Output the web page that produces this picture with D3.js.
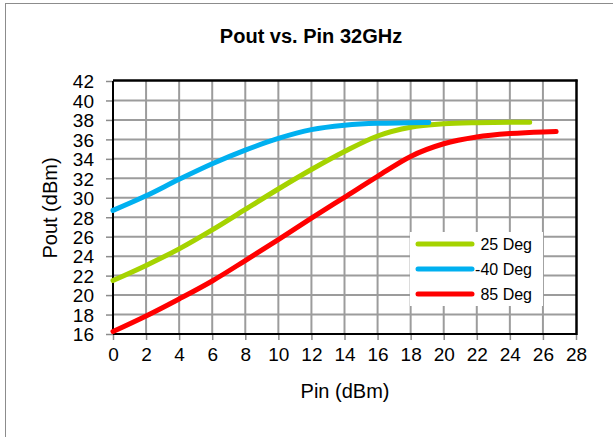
<!DOCTYPE html>
<html>
<head>
<meta charset="utf-8">
<script src="https://cdn.jsdelivr.net/npm/d3@7"></script>
<style>
  html, body { margin: 0; padding: 0; background: #fff; }
  svg { display: block; font-family: Arial, "Liberation Sans", sans-serif; }
</style>
</head>
<body>
<svg id="chart" width="613" height="437"></svg>
<script>
// Input power sweep (dBm) and measured output power per temperature
const pinM40 = [0, 2, 4, 6, 8, 10, 12, 14, 16, 18, 19.1];
const poutM40 = [28.7, 30.2, 31.9, 33.5, 34.9, 36.1, 37.0, 37.45, 37.65, 37.7, 37.73];

const pin25 = [0, 2, 4, 6, 8, 10, 12, 14, 16, 18, 20, 22, 24, 25.2];
const pout25 = [21.5, 23.05, 24.75, 26.7, 28.8, 30.9, 32.9, 34.75, 36.35, 37.25, 37.6, 37.72, 37.76, 37.76];

const pin85 = [0, 2, 4, 6, 8, 10, 12, 14, 16, 18, 20, 22, 24, 26, 26.8];
const pout85 = [16.25, 17.85, 19.6, 21.45, 23.55, 25.7, 27.9, 30.05, 32.2, 34.25, 35.55, 36.25, 36.6, 36.77, 36.8];

const xTicks = [0, 2, 4, 6, 8, 10, 12, 14, 16, 18, 20, 22, 24, 26, 28];
const yTicks = [16, 18, 20, 22, 24, 26, 28, 30, 32, 34, 36, 38, 40, 42];

const seriesNames = ["25 Deg", "-40 Deg", "85 Deg"];
const seriesColors = ["#a5d300", "#00b0f0", "#ff0000"];

const series = [
  { name: seriesNames[0], color: seriesColors[0], pts: pin25.map((x, i) => [x, pout25[i]]) },
  { name: seriesNames[1], color: seriesColors[1], pts: pinM40.map((x, i) => [x, poutM40[i]]) },
  { name: seriesNames[2], color: seriesColors[2], pts: pin85.map((x, i) => [x, pout85[i]]) }
];

const svg = d3.select("#chart");
const plot = { left: 113, right: 576, top: 81, bottom: 334 };

const x = d3.scaleLinear().domain([0, 28]).range([plot.left, plot.right]);
const y = d3.scaleLinear().domain([16, 42]).range([plot.bottom, plot.top]);

// outer chart frame
svg.append("rect")
  .attr("x", 5.5).attr("y", 3.5).attr("width", 640).attr("height", 460)
  .attr("fill", "#fff").attr("stroke", "#8c8c8c").attr("stroke-width", 1);

// title
svg.append("text")
  .attr("x", 311).attr("y", 43)
  .attr("text-anchor", "middle")
  .attr("font-size", 20).attr("font-weight", "bold").attr("fill", "#000")
  .text("Pout vs. Pin 32GHz");

// grid
const grid = svg.append("g").attr("stroke", "#9c9c9c").attr("stroke-width", 2);
grid.selectAll("line.v").data(xTicks.slice(1, -1)).join("line")
  .attr("x1", d => x(d)).attr("x2", d => x(d))
  .attr("y1", plot.top).attr("y2", plot.bottom);
grid.selectAll("line.h").data(yTicks.slice(1, -1)).join("line")
  .attr("y1", d => y(d)).attr("y2", d => y(d))
  .attr("x1", plot.left).attr("x2", plot.right);

// axes
const xAxis = d3.axisBottom(x).tickValues(xTicks).tickSize(6).tickPadding(8).tickFormat(d3.format("d"));
const yAxis = d3.axisLeft(y).tickValues(yTicks).tickSize(7).tickPadding(12).tickFormat(d3.format("d"));

const gx = svg.append("g").attr("transform", `translate(0,${plot.bottom})`).call(xAxis);
const gy = svg.append("g").attr("transform", `translate(${plot.left},0)`).call(yAxis);
[gx, gy].forEach(g => {
  g.select(".domain").remove();
  g.selectAll(".tick line").attr("stroke", "#8c8c8c").attr("stroke-width", 1.5);
  g.selectAll(".tick text").attr("font-size", 19).attr("fill", "#000")
    .attr("font-family", "Arial, 'Liberation Sans', sans-serif");
});
gy.selectAll(".tick text").attr("dy", "0.36em");

// plot frame
svg.append("line").attr("x1", plot.left).attr("x2", plot.right)
  .attr("y1", plot.bottom).attr("y2", plot.bottom).attr("stroke", "#000").attr("stroke-width", 2);
svg.append("line").attr("x1", plot.left).attr("x2", plot.left)
  .attr("y1", plot.top).attr("y2", plot.bottom).attr("stroke", "#000").attr("stroke-width", 2);
svg.append("line").attr("x1", plot.left).attr("x2", plot.right + 1.5)
  .attr("y1", plot.top - 0.5).attr("y2", plot.top - 0.5).attr("stroke", "#000").attr("stroke-width", 2.5);
svg.append("line").attr("x1", plot.right + 0.5).attr("x2", plot.right + 0.5)
  .attr("y1", plot.top - 1.5).attr("y2", plot.bottom + 1).attr("stroke", "#000").attr("stroke-width", 2.5);

// curves
const line = d3.line().x(d => x(d[0])).y(d => y(d[1])).curve(d3.curveMonotoneX);
svg.append("g").selectAll("path").data(series).join("path")
  .attr("d", d => line(d.pts))
  .attr("fill", "none")
  .attr("stroke", d => d.color)
  .attr("stroke-width", 5)
  .attr("stroke-linecap", "round")
  .attr("stroke-linejoin", "round");

// axis titles
svg.append("text")
  .attr("x", 345).attr("y", 398)
  .attr("text-anchor", "middle").attr("font-size", 20).attr("fill", "#000")
  .text("Pin (dBm)");
svg.append("text")
  .attr("transform", "translate(57,208) rotate(-90)")
  .attr("text-anchor", "middle").attr("font-size", 20).attr("fill", "#000")
  .text("Pout (dBm)");

// legend
const legend = svg.append("g").attr("transform", "translate(410,232)");
legend.append("rect").attr("width", 133).attr("height", 74).attr("fill", "#fff");
const item = legend.selectAll("g").data(series).join("g")
  .attr("transform", (d, i) => `translate(0,${12 + i * 25})`);
item.append("line")
  .attr("x1", 8).attr("x2", 62).attr("y1", 0).attr("y2", 0)
  .attr("stroke", d => d.color).attr("stroke-width", 5).attr("stroke-linecap", "round");
item.append("text")
  .attr("x", 122).attr("y", 0).attr("dy", "0.36em")
  .attr("text-anchor", "end").attr("font-size", 16).attr("fill", "#000")
  .text(d => d.name);
</script>
</body>
</html>
